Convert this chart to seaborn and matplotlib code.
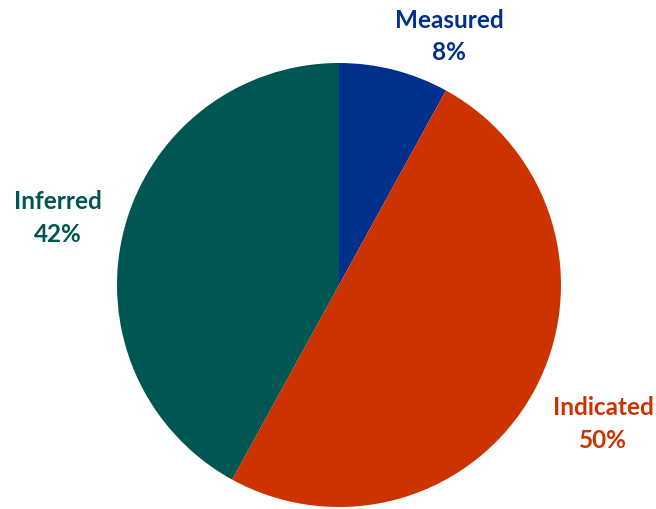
import matplotlib
matplotlib.use("Agg")
import matplotlib.pyplot as plt
import seaborn as sns

categories = ["Measured", "Indicated", "Inferred"]
shares = [8, 50, 42]
colors = ["#00308C", "#CC3300", "#005652"]

sns.set_style("white")
plt.rcParams["font.family"] = ["Lato", "DejaVu Sans"]

W, H = 656, 509
fig = plt.figure(figsize=(W / 100, H / 100), dpi=100)
cx, cy, r = 339, 285, 222
ax = fig.add_axes([(cx - r) / W, (H - cy - r) / H, 2 * r / W, 2 * r / H])

ax.pie(shares, colors=colors, startangle=90, counterclock=False,
       radius=1.0, wedgeprops=dict(linewidth=0))
ax.set_xlim(-1, 1)
ax.set_ylim(-1, 1)
ax.set_aspect("equal")
ax.axis("off")

# label anchor points in pie units (radius = 1)
label_pos = [(0.495, 1.12), (1.189, -0.626), (-1.266, 0.302)]
for name, val, col, (lx, ly) in zip(categories, shares, colors, label_pos):
    ax.text(lx, ly, f"{name}\n{val}%", color=col, ha="center", va="center",
            fontsize=17.5, fontweight="bold", linespacing=1.5, clip_on=False)

fig.savefig("out.png", dpi=100)
